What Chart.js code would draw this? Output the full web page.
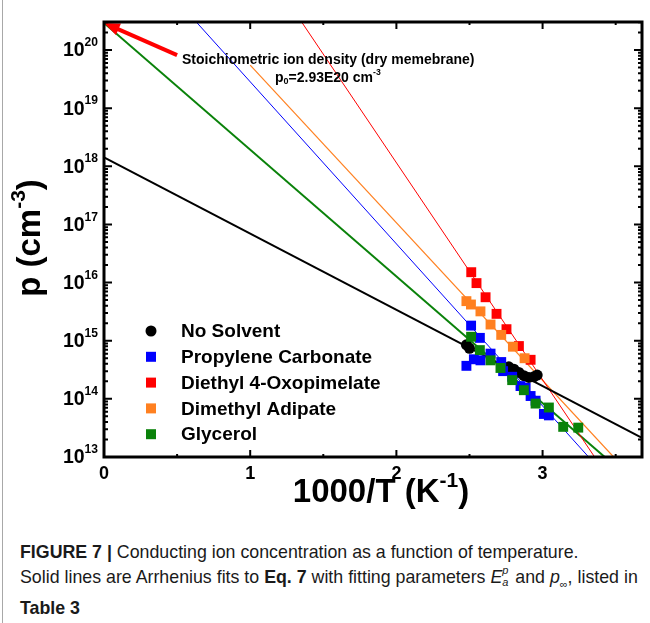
<!DOCTYPE html>
<html>
<head>
<meta charset="utf-8">
<script src="https://cdn.jsdelivr.net/npm/chart.js@4.4.1/dist/chart.umd.min.js"></script>
<style>
  body { margin: 0; background: #fff; width: 650px; height: 623px; overflow: hidden; position: relative; }
  #edge { position: absolute; left: 2px; top: 0; width: 1px; height: 623px; background: #a8a8a8; }
  #wrap { position: absolute; left: 0; top: 0; width: 650px; height: 520px; }
  #cap { position: absolute; left: 20px; top: 540px; width: 640px; white-space: nowrap;
         font-family: "Liberation Sans", Arial, sans-serif; font-size: 17.8px; line-height: 24.5px; color: #1a1a1a; }
  .ep { display: inline-block; position: relative; width: 8px; height: 10px; vertical-align: baseline; }
  .ep sup, .ep sub { position: absolute; left: 0; font-size: 11px; line-height: 11px; font-style: italic; }
  .ep sup { top: -8px; } .ep sub { top: 4px; }
</style>
</head>
<body>
<div id="edge"></div>
<div id="wrap"><canvas id="c" width="650" height="520"></canvas></div>
<div id="cap"><b>FIGURE 7 |</b> Conducting ion concentration as a function of temperature.<br>Solid lines are Arrhenius fits to <b>Eq. 7</b> with fitting parameters <i>E</i><span class="ep"><sup>p</sup><sub>a</sub></span> and <i>p</i><sub style="font-size:11px">&infin;</sub>, listed in<br><b>Table 3</b></div>
<script>
// measured points, x = 1000/T, p in cm^-3
const noSolventX = [2.479, 2.50, 2.769, 2.804, 2.838, 2.872, 2.906, 2.940, 2.963];
const noSolventP = [8.5e14, 7.4e14, 3.56e14, 3.24e14, 2.85e14, 2.51e14, 2.34e14, 2.40e14, 2.57e14];

const propCarbX = [2.511, 2.571, 2.644, 2.479, 2.53, 2.575, 2.717, 2.73, 2.792, 2.849, 2.884, 2.918, 2.952, 3.009, 3.043];
const propCarbP = [1.82e15, 1.12e15, 6.0e14, 3.7e14, 4.8e14, 4.6e14, 4.3e14, 3.0e14, 2.4e14, 1.66e14, 1.55e14, 1.12e14, 9.3e13, 5.5e13, 5.2e13];

const diethylX = [2.512, 2.548, 2.610, 2.685, 2.753, 2.838, 2.918];
const diethylP = [1.51e16, 9.8e15, 5.6e15, 2.9e15, 1.58e15, 8.1e14, 4.7e14];

const dimethylX = [2.479, 2.51, 2.575, 2.644, 2.717, 2.797, 2.877];
const dimethylP = [4.8e15, 4.2e15, 3.2e15, 1.9e15, 1.26e15, 7.9e14, 5.0e14];

const glycerolX = [2.511, 2.571, 2.644, 2.712, 2.792, 2.872, 2.952, 3.043, 3.141, 3.244];
const glycerolP = [1.17e15, 6.9e14, 4.6e14, 3.4e14, 2.1e14, 1.41e14, 8.3e13, 7.1e13, 3.3e13, 3.2e13];

// Arrhenius fit lines, end points
const fitNoSolventX = [0, 3.68];    const fitNoSolventP = [1.43e18, 2.14e13];
const fitPropCarbX = [0.637, 3.315]; const fitPropCarbP = [2.93e20, 1e13];
const fitDiethylX = [1.356, 3.356];  const fitDiethylP = [2.93e20, 1e13];
const fitDimethylX = [1.0, 3.486];   const fitDimethylP = [5.5e19, 1e13];
const fitGlycerolX = [0, 3.425];     const fitGlycerolP = [2.93e20, 1e13];

const xTicks = [0, 1, 2, 3];
const xMinorTicks = [0.5, 1.5, 2.5, 3.5];
const yDecades = [13, 14, 15, 16, 17, 18, 19, 20];

const names = ['No Solvent', 'Propylene Carbonate', 'Diethyl 4-Oxopimelate', 'Dimethyl Adipate', 'Glycerol'];
const colors = ['#000000', '#0000ff', '#ff0000', '#ff8020', '#0a820a'];

const pts = (xs, ps) => xs.map((v, i) => ({x: v, y: ps[i]}));

const bold = s => 'bold ' + s + 'px "Liberation Sans", Arial, sans-serif';

function scatterSet(i, xs, ps) {
  return {
    label: names[i], data: pts(xs, ps), order: 0,
    backgroundColor: colors[i], borderColor: colors[i], borderWidth: 0,
    pointStyle: i === 0 ? 'circle' : 'rect', pointRadius: i === 0 ? 5.5 : 7, showLine: false
  };
}
function fitSet(i, xs, ps, w) {
  return {
    label: names[i] + ' fit', data: pts(xs, ps), order: 1, showLine: true,
    borderColor: colors[i], borderWidth: w, pointRadius: 0, fill: false
  };
}

// superscript label like 10^20
function supText(ctx, base, sup, x, y, size, align) {
  ctx.font = bold(size);
  const w1 = ctx.measureText(base).width;
  ctx.font = bold(size * 0.62);
  const w2 = ctx.measureText(sup).width;
  let x0 = align === 'right' ? x - w1 - w2 : x;
  ctx.textAlign = 'left';
  ctx.textBaseline = 'middle';
  ctx.font = bold(size);
  ctx.fillText(base, x0, y);
  ctx.font = bold(size * 0.62);
  ctx.fillText(sup, x0 + w1, y - size * 0.42);
  return w1 + w2;
}

const frame = {
  id: 'frame',
  afterDatasetsDraw(chart) {
    const {ctx, chartArea: a, scales: {x, y}} = chart;
    ctx.save();

    // annotation arrow
    const hx = x.getPixelForValue(0), hy = y.getPixelForValue(2.93e20);
    const tx = x.getPixelForValue(0.5), ty = y.getPixelForValue(8.2e19);
    const ang = Math.atan2(ty - hy, tx - hx);
    ctx.strokeStyle = '#ff0000';
    ctx.fillStyle = '#ff0000';
    ctx.lineWidth = 4;
    ctx.beginPath();
    ctx.moveTo(tx, ty);
    ctx.lineTo(hx + 14 * Math.cos(ang), hy + 14 * Math.sin(ang));
    ctx.stroke();
    ctx.beginPath();
    ctx.moveTo(hx, hy);
    ctx.lineTo(hx + 17 * Math.cos(ang - 0.38), hy + 17 * Math.sin(ang - 0.38));
    ctx.lineTo(hx + 17 * Math.cos(ang + 0.38), hy + 17 * Math.sin(ang + 0.38));
    ctx.closePath();
    ctx.fill();

    ctx.fillStyle = '#000';
    ctx.strokeStyle = '#000';
    ctx.font = bold(14);
    ctx.textAlign = 'left';
    ctx.textBaseline = 'middle';
    ctx.fillText('Stoichiometric ion density (dry memebrane)', 182, 60);
    // p0 = 2.93E20 cm-3
    let px = 275;
    ctx.font = bold(14);
    ctx.fillText('p', px, 78); px += ctx.measureText('p').width;
    ctx.font = bold(9);
    ctx.fillText('0', px, 82); px += ctx.measureText('0').width;
    px += supText(ctx, '=2.93E20 cm', '-3', px, 78, 14, 'left');

    // frame
    ctx.lineWidth = 3;
    ctx.strokeRect(a.left, a.top, a.right - a.left, a.bottom - a.top);

    // ticks
    ctx.lineWidth = 2;
    ctx.beginPath();
    const xt = (v, len) => {
      const p = x.getPixelForValue(v);
      ctx.moveTo(p, a.bottom); ctx.lineTo(p, a.bottom - len);
      ctx.moveTo(p, a.top); ctx.lineTo(p, a.top + len);
    };
    const yt = (v, len) => {
      const p = y.getPixelForValue(v);
      if (p < a.top || p > a.bottom) return;
      ctx.moveTo(a.left, p); ctx.lineTo(a.left + len, p);
      ctx.moveTo(a.right, p); ctx.lineTo(a.right - len, p);
    };
    xTicks.forEach(v => xt(v, 7));
    xMinorTicks.forEach(v => xt(v, 3));
    yDecades.forEach(d => {
      yt(Math.pow(10, d), 8);
      for (let k = 2; k < 10; k++) yt(k * Math.pow(10, d), 4);
    });
    ctx.stroke();

    // tick labels
    ctx.font = bold(18);
    ctx.textAlign = 'center';
    ctx.textBaseline = 'middle';
    xTicks.forEach(v => ctx.fillText(String(v), x.getPixelForValue(v), a.bottom + 17));
    yDecades.forEach(d => supText(ctx, '10', String(d), a.left - 6, y.getPixelForValue(Math.pow(10, d)) + 1, 19.5, 'right'));

    // axis titles
    const t1 = '1000/T (K', t2 = '-1', t3 = ')';
    ctx.font = bold(33); const w1 = ctx.measureText(t1).width;
    ctx.font = bold(21); const w2 = ctx.measureText(t2).width;
    ctx.font = bold(33); const w3 = ctx.measureText(t3).width;
    let sx = 381 - (w1 + w2 + w3) / 2;
    ctx.textAlign = 'left';
    ctx.fillText(t1, sx, 493);
    ctx.font = bold(21); ctx.fillText(t2, sx + w1, 481);
    ctx.font = bold(33); ctx.fillText(t3, sx + w1 + w2, 493);

    ctx.save();
    ctx.translate(31, 238);
    ctx.rotate(-Math.PI / 2);
    const s1 = 'p (cm', s2 = '-3', s3 = ')';
    ctx.font = bold(33); const v1 = ctx.measureText(s1).width;
    ctx.font = bold(21); const v2 = ctx.measureText(s2).width;
    ctx.font = bold(33); const v3 = ctx.measureText(s3).width;
    let sy = -(v1 + v2 + v3) / 2;
    ctx.fillText(s1, sy, 0);
    ctx.font = bold(21); ctx.fillText(s2, sy + v1, -12);
    ctx.font = bold(33); ctx.fillText(s3, sy + v1 + v2, 0);
    ctx.restore();

    // legend inside the plot
    names.forEach((n, i) => {
      const ly = 331 + i * 25.8;
      ctx.fillStyle = colors[i];
      ctx.beginPath();
      if (i === 0) ctx.arc(151, ly, 5.5, 0, Math.PI * 2);
      else ctx.rect(146, ly - 5, 10, 10);
      ctx.fill();
      ctx.fillStyle = '#000';
      ctx.font = bold(19);
      ctx.textAlign = 'left';
      ctx.textBaseline = 'middle';
      ctx.fillText(n, 181, ly + 1);
    });
    ctx.restore();
  }
};

new Chart(document.getElementById('c').getContext('2d'), {
  type: 'scatter',
  data: {
    datasets: [
      scatterSet(3, dimethylX, dimethylP),
      scatterSet(2, diethylX, diethylP),
      scatterSet(4, glycerolX, glycerolP),
      scatterSet(1, propCarbX, propCarbP),
      scatterSet(0, noSolventX, noSolventP),
      fitSet(0, fitNoSolventX, fitNoSolventP, 2),
      fitSet(1, fitPropCarbX, fitPropCarbP, 1),
      fitSet(2, fitDiethylX, fitDiethylP, 1),
      fitSet(3, fitDimethylX, fitDimethylP, 1.2),
      fitSet(4, fitGlycerolX, fitGlycerolP, 2)
    ]
  },
  options: {
    responsive: false,
    animation: false,
    layout: { padding: { left: 104, top: 22, right: 8, bottom: 63 } },
    scales: {
      x: { type: 'linear', min: 0, max: 3.68, display: false },
      y: { type: 'logarithmic', min: 1e13, max: 3.04e20, display: false }
    },
    plugins: { legend: { display: false }, tooltip: { enabled: false } }
  },
  plugins: [frame]
});
</script>
</body>
</html>
